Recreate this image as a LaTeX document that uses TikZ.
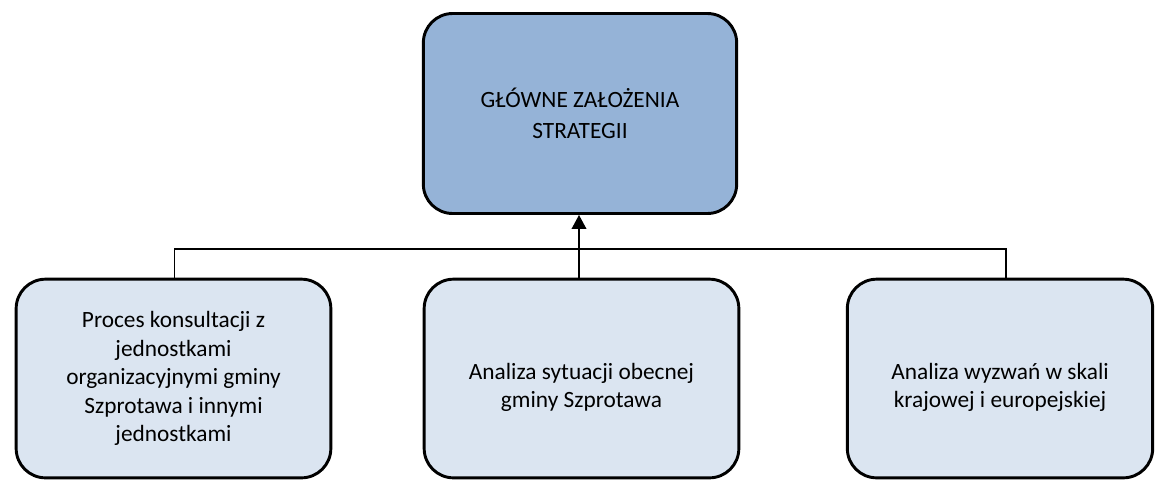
\documentclass[tikz,border=0pt]{standalone}
\usepackage{fontspec}
\setmainfont{Carlito}
\usetikzlibrary{arrows.meta,calc}
\definecolor{topfill}{HTML}{95B3D7}
\definecolor{botfill}{HTML}{DBE5F1}
\tikzset{
  box/.style={draw=black, line width=2.2pt, rounded corners=22pt, align=center,
    inner sep=0pt, font=\fontsize{17.5}{21.4}\selectfont},
  topbox/.style={box, fill=topfill, minimum width=235pt, minimum height=150pt,
    font=\fontsize{17.5}{23.3}\selectfont},
  botbox/.style={box, fill=botfill, minimum width=236pt, minimum height=149pt},
  boxtext/.style={align=center, inner sep=0pt, font=\fontsize{17.5}{21.4}\selectfont},
  conn/.style={draw=black, line width=0.9pt},
  arrowline/.style={draw=black, line width=1.2pt, -{Triangle[width=11pt,length=10.5pt]}}
}
\begin{document}
\begin{tikzpicture}[x=0.75pt,y=-0.75pt]
\useasboundingbox (0,0) rectangle (1155,480);
\node[topbox] (T) at (580,113.5) {GŁÓWNE ZAŁOŻENIA\\STRATEGII};
\node[botbox] (L) at (173.5,378.5) {Proces konsultacji z\\jednostkami\\organizacyjnymi gminy\\Szprotawa i innymi\\jednostkami};
\node[botbox] (M) at (581.5,378.5) {};
\node[boxtext] (Mt) at ([yshift=-6.5pt]M.center) {Analiza sytuacji obecnej\\gminy Szprotawa};
\node[botbox, minimum width=229pt] (R) at (1000,378.5) {};
\node[boxtext] (Rt) at ([yshift=-6.5pt]R.center) {Analiza wyzwań w skali\\krajowej i europejskiej};
\coordinate (hub) at (579,249);
\draw[conn] ([xshift=1pt]L.north) |- (hub) -| ([xshift=4.5pt]R.north);
\draw[arrowline] (M.north -| hub) -- (T.south -| hub);
\end{tikzpicture}
\end{document}
